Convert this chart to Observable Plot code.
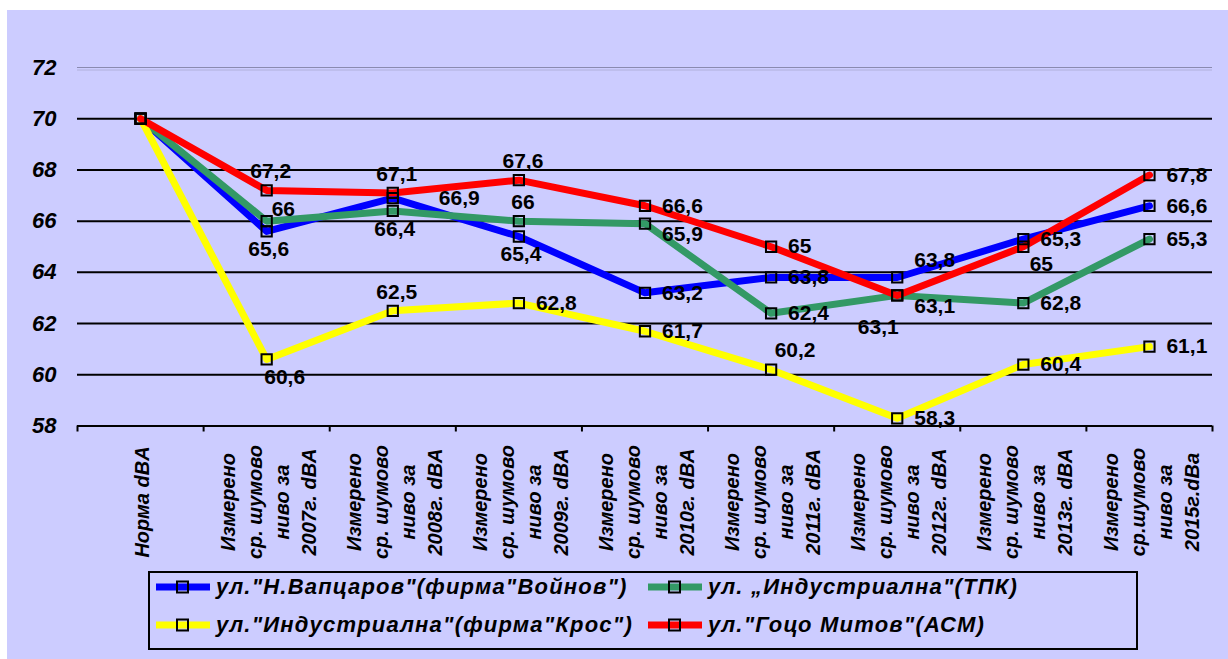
<!DOCTYPE html>
<html>
<head>
<meta charset="utf-8">
<script src="https://cdn.jsdelivr.net/npm/d3@7"></script>
<script src="https://cdn.jsdelivr.net/npm/@observablehq/plot@0.6"></script>
<style>
html,body{margin:0;padding:0;background:#fff;}
#wrap{position:relative;width:1228px;height:659px;overflow:hidden;font-family:Arial,"Liberation Sans",sans-serif;}
#bg{position:absolute;left:7px;top:10px;right:0;bottom:0;background:#ccccff;}
#chart{position:absolute;left:0;top:0;}
#legend{position:absolute;left:148px;top:571px;width:990px;height:79px;box-sizing:border-box;border:2px solid #000;}
.item{position:absolute;display:flex;align-items:center;height:30px;font-weight:bold;font-style:italic;font-size:22px;white-space:nowrap;color:#000;letter-spacing:1.2px;}
.item svg{margin-right:6px;flex:none;}
g[aria-label="data-label"] text{letter-spacing:1px;}
g[aria-label="y-axis tick label"]{font-weight:bold;font-style:italic;font-size:22px;}
</style>
</head>
<body>
<div id="wrap">
  <div id="bg"></div>
  <div id="chart"></div>
  <div id="legend"></div>
</div>
<script>
// ---- data ----
const categories = [
  "Норма dBA",
  "Измерено\nср. шумово\nниво за\n2007г. dBA",
  "Измерено\nср. шумово\nниво за\n2008г. dBA",
  "Измерено\nср. шумово\nниво за\n2009г. dBA",
  "Измерено\nср. шумово\nниво за\n2010г. dBA",
  "Измерено\nср. шумово\nниво за\n2011г. dBA",
  "Измерено\nср. шумово\nниво за\n2012г. dBA",
  "Измерено\nср. шумово\nниво за\n2013г. dBA",
  "Измерено\nср.шумово\nниво за\n2015г.dBa"
];
const seriesNames = [
  "ул.\"Н.Вапцаров\"(фирма\"Войнов\")",
  "ул. „Индустриална\"(ТПК)",
  "ул.\"Индустриална\"(фирма\"Крос\")",
  "ул.\"Гоцо Митов\"(АСМ)"
];
const vaptsarov = [70, 65.6, 66.9, 65.4, 63.2, 63.8, 63.8, 65.3, 66.6];
const tpk       = [70, 66, 66.4, 66, 65.9, 62.4, 63.1, 62.8, 65.3];
const kros      = [70, 60.6, 62.5, 62.8, 61.7, 60.2, 58.3, 60.4, 61.1];
const mitov     = [70, 67.2, 67.1, 67.6, 66.6, 65, 63.1, 65, 67.8];
const yTicks = [58, 60, 62, 64, 66, 68, 70, 72];

// ---- style ----
const seriesColors = ["#0000ff", "#339966", "#ffff00", "#ff0000"];
// label placement codes per point (null = no label)
const placeVaptsarov = [null, "B", "RF", "B", "R", "R", "RU", "R", "R"];
const placeTpk       = [null, "AR", "B", "A", "RD", "R", "RD", "R", "R"];
const placeKros      = [null, "BR", "A", "R", "R", "AF", "R", "R", "R"];
const placeMitov     = [null, "A", "A", "A", "R", "R", "BL", "BR", "R"];
const placeStyles = {
  R:  {textAnchor: "start",  dx: 17, dy: 0},
  RU: {textAnchor: "start",  dx: 17, dy: -17},
  RD: {textAnchor: "start",  dx: 17, dy: 11},
  RF: {textAnchor: "start",  dx: 46, dy: 0},
  AR: {textAnchor: "start",  dx: 5,  dy: -12},
  A:  {textAnchor: "middle", dx: 4,  dy: -19},
  AF: {textAnchor: "middle", dx: 24, dy: -19},
  B:  {textAnchor: "middle", dx: 2,  dy: 18},
  BR: {textAnchor: "middle", dx: 18, dy: 18},
  BL: {textAnchor: "middle", dx: -19, dy: 32}
};

const seriesValues = [vaptsarov, tpk, kros, mitov];
const seriesPlaces = [placeVaptsarov, placeTpk, placeKros, placeMitov];
const rows = [];
seriesValues.forEach((vals, s) => {
  vals.forEach((v, i) => rows.push({series: seriesNames[s], i, value: v, place: seriesPlaces[s][i]}));
});
const fmt = v => String(v).replace(".", ",");
const xPos = d => d.i + 0.5;
const yMin = d3.min(yTicks), yMax = d3.max(yTicks);

const labelMarks = Object.entries(placeStyles).map(([code, st]) =>
  Plot.text(rows.filter(d => d.place === code), {
    x: xPos, y: "value", text: d => fmt(d.value),
    textAnchor: st.textAnchor, dx: st.dx, dy: st.dy,
    fontSize: 21, fontWeight: "bold", fill: "#000",
    ariaLabel: "data-label"
  })
);

const chart = Plot.plot({
  width: 1228, height: 565,
  marginLeft: 77, marginRight: 16, marginTop: 67, marginBottom: 139.5,
  style: {background: "transparent", fontFamily: "Arial, 'Liberation Sans', sans-serif", color: "#000"},
  x: {domain: [0, categories.length], axis: null},
  y: {domain: [yMin, yMax], axis: null},
  color: {domain: seriesNames, range: seriesColors},
  marks: [
    Plot.ruleY([yMax], {stroke: "#8a8ab0", strokeWidth: 1.2}),
    Plot.ruleY([yMax], {stroke: "#b0b0dc", strokeWidth: 1, dy: 2.5}),
    Plot.ruleY(yTicks.filter(t => t > yMin && t < yMax), {stroke: "#000", strokeWidth: 2}),
    Plot.ruleY([yMin], {stroke: "#000", strokeWidth: 2}),
    Plot.axisX(d3.range(categories.length + 1), {tickSize: 6, tickFormat: () => "", stroke: "#000", strokeWidth: 2, label: null}),
    Plot.axisY(yTicks, {tickSize: 0, tickPadding: 21, fontSize: 22, fontWeight: "bold", fontStyle: "italic", tickFormat: d => String(d), label: null}),
    Plot.text(categories, {
      x: (d, i) => i + 0.5, frameAnchor: "bottom", text: d => d,
      rotate: -90, textAnchor: "middle", lineAnchor: "middle", lineHeight: 1.35,
      dy: 76, fontSize: 20, fontWeight: "bold", fontStyle: "italic", fill: "#000"
    }),
    Plot.line(rows, {x: xPos, y: "value", z: "series", stroke: "series", strokeWidth: 7}),
    Plot.dot(rows, {x: xPos, y: "value", symbol: "square", r: 5.8, stroke: "#000", strokeWidth: 2, fill: "none"}),
    ...labelMarks
  ]
});
document.getElementById("chart").appendChild(chart);

// ---- legend ----
const legend = document.getElementById("legend");
const legendPos = [[6, -1], [498, -1], [6, 37], [498, 37]];
seriesNames.forEach((name, s) => {
  const item = document.createElement("div");
  item.className = "item";
  item.style.left = legendPos[s][0] + "px";
  item.style.top = legendPos[s][1] + "px";
  item.innerHTML = `<svg width="54" height="16"><rect x="0" y="4.5" width="54" height="7" fill="${seriesColors[s]}"></rect><rect x="21" y="2.5" width="11" height="11" fill="none" stroke="#000" stroke-width="2"></rect></svg>`;
  const span = document.createElement("span");
  span.textContent = name;
  item.appendChild(span);
  legend.appendChild(item);
});
</script>
</body>
</html>
